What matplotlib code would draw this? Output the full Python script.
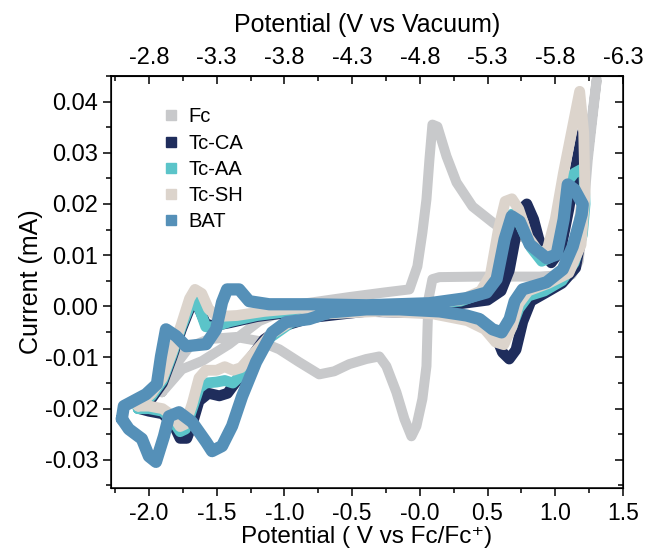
import matplotlib
matplotlib.use('Agg')
import matplotlib.pyplot as plt
from matplotlib.lines import Line2D
from matplotlib.ticker import MultipleLocator, FixedLocator, FormatStrFormatter

plt.rcParams['font.family'] = ['Liberation Sans', 'DejaVu Sans']
plt.rcParams['axes.unicode_minus'] = False

"""data: potential (V vs Fc/Fc+) and current (mA), one closed loop per sample"""
fc_v = [-1.904, -1.756, -1.608, -1.408, -1.186, -0.891, -0.521, -0.262, -0.077, -0.018, 0.019, 0.049, 0.071, 0.093,
        0.130, 0.197, 0.271, 0.389, 0.537, 0.641, 0.811, 0.996, 1.121, 1.166, 1.217, 1.269, 1.306,
        1.240, 1.203, 1.173, 1.121, 0.885, 0.441, 0.145, 0.093, 0.064, 0.056, 0.049, 0.019, -0.025, -0.062, -0.114,
        -0.173, -0.247, -0.299, -0.395, -0.521, -0.632, -0.743, -0.891, -1.038, -1.186, -1.357, -1.556, -1.704,
        -1.815, -1.889, -1.904]
fc_i = [-0.0168, -0.0123, -0.0107, -0.0074, -0.0029, 0.0004, 0.0018, 0.0027, 0.0033, 0.0078, 0.0144, 0.0209, 0.0287, 0.0355,
        0.0351, 0.0293, 0.0242, 0.0195, 0.0164, 0.0144, 0.0131, 0.0119, 0.0115, 0.0150, 0.0248, 0.0365, 0.0443,
        0.0287, 0.0170, 0.0088, 0.0062, 0.0058, 0.0058, 0.0057, 0.0053, 0.0014, -0.0051, -0.0117, -0.0181, -0.0234, -0.0254, -0.0220,
        -0.0168, -0.0117, -0.0098, -0.0103, -0.0113, -0.0127, -0.0133, -0.0109, -0.0084, -0.0068, -0.0060, -0.0064, -0.0080,
        -0.0119, -0.0158, -0.0168]

tcca_v = [-2.07, -1.98, -1.90, -1.83, -1.76, -1.70, -1.66, -1.62, -1.58, -1.52, -1.40, -1.20, -0.9, -0.5, 0.0, 0.30, 0.50,
          0.60, 0.66, 0.71, 0.75, 0.79, 0.84, 0.90, 0.97, 1.04, 1.10, 1.15, 1.20,
          1.21, 1.20, 1.15, 1.05, 0.92, 0.82, 0.76, 0.71, 0.66, 0.61, 0.55, 0.45, 0.3, 0.0, -0.4, -0.8, -1.0, -1.15,
          -1.26, -1.35, -1.42, -1.48, -1.56, -1.63, -1.68, -1.72, -1.77, -1.82, -1.90, -2.00, -2.07]
tcca_i = [-0.0200, -0.0180, -0.0150, -0.0100, -0.0045, -0.0005, 0.0008, -0.0010, -0.0035, -0.0038, -0.0032, -0.0020, -0.0010, -0.0003, 0.0001, 0.0005, 0.0012,
          0.0030, 0.0070, 0.0140, 0.0190, 0.0200, 0.0170, 0.0110, 0.0085, 0.0110, 0.0190, 0.0270, 0.0340,
          0.0250, 0.0150, 0.0075, 0.0045, 0.0025, 0.0010, -0.0030, -0.0085, -0.0103, -0.0090, -0.0050, -0.0028, -0.0018, -0.0012, -0.0010, -0.0022, -0.0038, -0.0065,
          -0.0105, -0.0145, -0.0170, -0.0175, -0.0170, -0.0185, -0.0230, -0.0258, -0.0258, -0.0230, -0.0210, -0.0205, -0.0200]

tcaa_v = [-2.08, -1.98, -1.90, -1.83, -1.76, -1.70, -1.66, -1.62, -1.58, -1.52, -1.40, -1.20, -0.9, -0.5, 0.0, 0.30, 0.45,
          0.52, 0.58, 0.63, 0.68, 0.74, 0.82, 0.90, 0.96, 1.02, 1.08, 1.14, 1.21,
          1.22, 1.20, 1.14, 1.05, 0.92, 0.80, 0.73, 0.68, 0.63, 0.57, 0.48, 0.35, 0.1, -0.3, -0.7, -0.95, -1.10, -1.22,
          -1.32, -1.38, -1.44, -1.50, -1.58, -1.63, -1.68, -1.73, -1.77, -1.82, -1.90, -2.00, -2.08]
tcaa_i = [-0.0200, -0.0175, -0.0145, -0.0095, -0.0040, 0.0000, 0.0012, -0.0010, -0.0040, -0.0040, -0.0030, -0.0018, -0.0008, 0.0000, 0.0004, 0.0010, 0.0024,
          0.0050, 0.0120, 0.0168, 0.0180, 0.0160, 0.0115, 0.0088, 0.0095, 0.0160, 0.0240, 0.0260, 0.0270,
          0.0200, 0.0140, 0.0085, 0.0050, 0.0030, 0.0020, -0.0005, -0.0040, -0.0060, -0.0055, -0.0035, -0.0022, -0.0012, -0.0008, -0.0015, -0.0032, -0.0060, -0.0100,
          -0.0135, -0.0150, -0.0145, -0.0148, -0.0150, -0.0160, -0.0200, -0.0240, -0.0245, -0.0225, -0.0205, -0.0200, -0.0200]

tcsh_v = [-2.08, -1.98, -1.90, -1.83, -1.76, -1.70, -1.66, -1.61, -1.56, -1.50, -1.35, -1.15, -0.9, -0.5, 0.0, 0.30, 0.45,
          0.52, 0.58, 0.63, 0.68, 0.73, 0.80, 0.88, 0.94, 1.00, 1.06, 1.12, 1.18,
          1.21, 1.22, 1.19, 1.10, 0.95, 0.80, 0.73, 0.68, 0.62, 0.56, 0.48, 0.35, 0.1, -0.3, -0.7, -0.95, -1.10, -1.22,
          -1.32, -1.38, -1.44, -1.50, -1.58, -1.63, -1.68, -1.73, -1.77, -1.82, -1.90, -2.00, -2.08]
tcsh_i = [-0.0195, -0.0170, -0.0140, -0.0090, -0.0035, 0.0015, 0.0033, 0.0025, -0.0005, -0.0020, -0.0018, -0.0010, -0.0004, 0.0002, 0.0005, 0.0012, 0.0030,
          0.0060, 0.0150, 0.0205, 0.0210, 0.0190, 0.0135, 0.0105, 0.0110, 0.0170, 0.0260, 0.0340, 0.0420,
          0.0340, 0.0220, 0.0120, 0.0065, 0.0045, 0.0030, 0.0005, -0.0040, -0.0075, -0.0070, -0.0045, -0.0028, -0.0015, -0.0010, -0.0015, -0.0030, -0.0055, -0.0090,
          -0.0120, -0.0125, -0.0118, -0.0125, -0.0125, -0.0140, -0.0190, -0.0230, -0.0235, -0.0215, -0.0200, -0.0195, -0.0195]

bat_v = [-2.200, -2.185, -2.022, -1.941, -1.911, -1.874, -1.800, -1.726, -1.578, -1.504, -1.460, -1.423, -1.334, -1.260,
         -1.112, -0.817, -0.395, 0.071, 0.345, 0.493, 0.567, 0.626, 0.678, 0.737, 0.811, 0.936, 1.010, 1.062, 1.092, 1.143, 1.203,
         1.195, 1.129, 1.055, 0.936, 0.759, 0.700, 0.663, 0.604, 0.537, 0.441, 0.345, 0.145, -0.151, -0.395, -0.669, -0.817,
         -0.987, -1.090, -1.209, -1.312, -1.386, -1.460, -1.534, -1.578, -1.682, -1.778, -1.852, -1.889, -1.948, -2.000,
         -2.052, -2.148, -2.200]
bat_i = [-0.0220, -0.0195, -0.0172, -0.0152, -0.0098, -0.0045, -0.0058, -0.0078, -0.0074, -0.0045, 0.0008, 0.0033, 0.0033, 0.0010,
         0.0004, 0.0004, 0.0002, 0.0006, 0.0016, 0.0027, 0.0053, 0.0131, 0.0176, 0.0166, 0.0121, 0.0094, 0.0101, 0.0170, 0.0238, 0.0228, 0.0199,
         0.0180, 0.0117, 0.0072, 0.0047, 0.0033, 0.0010, -0.0025, -0.0051, -0.0045, -0.0025, -0.0018, -0.0010, -0.0006, -0.0006, -0.0012, -0.0025,
         -0.0031, -0.0051, -0.0109, -0.0176, -0.0234, -0.0273, -0.0283, -0.0265, -0.0226, -0.0207, -0.0215, -0.0254, -0.0304, -0.0293,
         -0.0259, -0.0240, -0.0220]

labels = ['Fc', 'Tc-CA', 'Tc-AA', 'Tc-SH', 'BAT']
colors = ['#c8c9cb', '#1f2d5c', '#5bc4c9', '#dcd4cc', '#5590b8']
x_ticks = [-2.0, -1.5, -1.0, -0.5, 0.0, 0.5, 1.0, 1.5]
x_ticklabels = ['-2.0', '-1.5', '-1.0', '-0.5', '-0.0', '0.5', '1.0', '1.5']
top_ticks = [-2.8, -3.3, -3.8, -4.3, -4.8, -5.3, -5.8, -6.3]
vacuum_offset = 4.8  # E(vacuum) = -(E(Fc) + 4.8)

fig = plt.figure(figsize=(6.46, 5.57), dpi=100)
ax = fig.add_axes([0.1718, 0.1239, 0.7926, 0.7397])

series = [(fc_v, fc_i), (tcca_v, tcca_i), (tcaa_v, tcaa_i), (tcsh_v, tcsh_i), (bat_v, bat_i)]
widths = [7.2, 7.8, 7.8, 7.8, 8.8]
for (v, i), c, w in zip(series, colors, widths):
    ax.plot(v, i, color=c, lw=w, solid_joinstyle='round', solid_capstyle='round')

ax.set_xlim(-2.28, 1.5)
ax.set_ylim(-0.0355, 0.045)

# bottom / left ticks
ax.xaxis.set_major_locator(FixedLocator(x_ticks))
ax.set_xticklabels(x_ticklabels)
ax.xaxis.set_minor_locator(MultipleLocator(0.25))
ax.yaxis.set_major_locator(MultipleLocator(0.01))
ax.yaxis.set_minor_locator(MultipleLocator(0.005))
ax.yaxis.set_major_formatter(FormatStrFormatter('%.2f'))
ax.tick_params(axis='both', which='major', direction='out', length=6, width=1.1, labelsize=17, pad=3)
ax.tick_params(axis='x', which='major', labelsize=16.5, pad=4)
ax.tick_params(axis='both', which='minor', direction='out', length=3.5, width=1.1)
for s in ax.spines.values():
    s.set_linewidth(1.1)

ax.set_xlabel('Potential ( V vs Fc/Fc\u207a)', fontsize=17.5, labelpad=1)
ax.set_ylabel('Current (mA)', fontsize=18, labelpad=1)

# right side ticks inward
ax2 = ax.twinx()
ax2.set_ylim(ax.get_ylim())
ax2.yaxis.set_major_locator(MultipleLocator(0.01))
ax2.yaxis.set_minor_locator(MultipleLocator(0.005))
ax2.tick_params(axis='y', which='major', direction='in', length=6, width=1.1, labelright=False)
ax2.tick_params(axis='y', which='minor', direction='in', length=3.5, width=1.1)

# top axis: potential vs vacuum
top = ax.secondary_xaxis('top', functions=(lambda x: -x - vacuum_offset, lambda x: -x - vacuum_offset))
top.xaxis.set_major_locator(FixedLocator(top_ticks))
top.xaxis.set_minor_locator(FixedLocator([t + 0.25 for t in top_ticks]))
top.xaxis.set_major_formatter(FormatStrFormatter('%.1f'))
top.tick_params(which='major', direction='in', length=6, width=1.1, labelsize=17, pad=5)
top.tick_params(which='minor', direction='in', length=3.5, width=1.1)
top.spines['top'].set_linewidth(1.1)
top.set_xlabel('Potential (V vs Vacuum)', fontsize=18, labelpad=11)

handles = [Line2D([], [], marker='s', ls='none', color=c, markersize=7.5) for c in colors]
ax.legend(handles, labels, loc='upper left', bbox_to_anchor=(0.07, 0.958), frameon=False,
          fontsize=14.5, handlelength=1.0, handletextpad=0.35, labelspacing=0.36, borderpad=0.2)

fig.savefig('out.png', dpi=100)
